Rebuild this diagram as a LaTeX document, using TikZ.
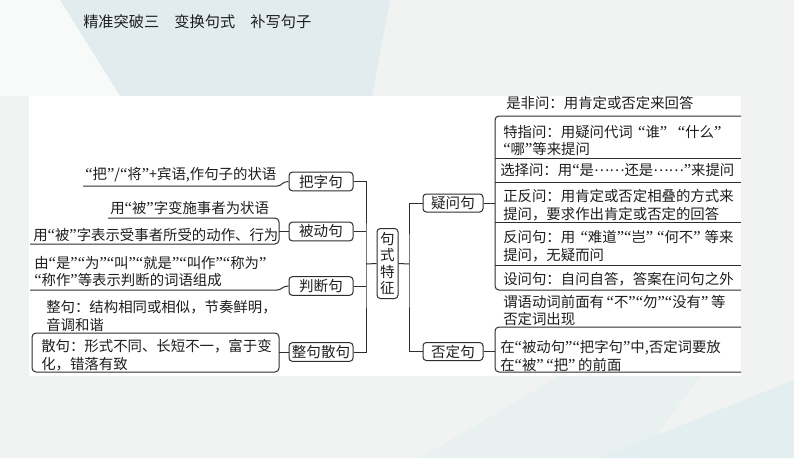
\documentclass[tikz,border=0pt]{standalone}
\usepackage{fontspec}
\setmainfont{Noto Sans CJK SC}
\newfontfamily\qf{Liberation Serif}[Scale=1.15]
\newcommand\q[1]{{\qf “}#1{\qf ”}}
\newcommand\mydots{\raisebox{0.26em}{……}}
\usetikzlibrary{calc}
\definecolor{ln}{HTML}{2E2E2E}
\definecolor{txt}{HTML}{1E1E1E}
\definecolor{bgbase}{HTML}{F1F3F3}
\definecolor{bgblue}{HTML}{DCEAEE}
\definecolor{bgteal}{HTML}{E2EEEF}
\begin{document}
\begin{tikzpicture}[x=0.75pt,y=-0.75pt,
  wire/.style={draw=ln, line width=0.75pt},
  catbox/.style={draw=ln, line width=0.75pt, rounded corners=2.5pt, fill=white,
    minimum width=48pt, minimum height=14pt, inner sep=0pt, text=txt,
    font=\fontsize{10.9}{13}\selectfont},
  leaf/.style={inner sep=0pt, anchor=west, align=left, text=txt,
    font=\fontsize{10.8}{13.1}\selectfont}]
\useasboundingbox (0,0) rectangle (794,458);
% background
\fill[bgbase] (0,0) rectangle (794,458);
\fill[bgblue, opacity=0.7] (60,0) -- (390,0) -- (372,96) -- (120,96) -- cycle;
\fill[white, opacity=0.5] (0,0) -- (60,0) -- (120,96) -- (0,96) -- cycle;
\fill[bgteal] (600,458) -- (794,380) -- (794,458) -- cycle;
\fill[bgteal, opacity=0.6] (420,458) -- (560,376) -- (700,376) -- (640,458) -- cycle;
\fill[white] (29,96) rectangle (741,376);
% title
\node[anchor=west, inner sep=0pt, text=txt, font=\fontsize{11.4}{13}\selectfont] (title) at (83,22) {精准突破三　变换句式　补写句子};

% central node
\node[catbox, minimum width=15.75pt, minimum height=52.5pt, align=center,
  font=\fontsize{10.9}{12.2}\selectfont] (c) at (387.5,263.5) {句\\式\\特\\征};

% left category nodes
\node[catbox] (ba) at (321,181.5) {把字句};
\node[catbox] (bd) at (321,231.5) {被动句};
\node[catbox] (pd) at (321,286) {判断句};
\node[catbox] (zs) at (321,352) {整句散句};

% right category nodes
\node[catbox, minimum width=45pt, minimum height=13.5pt] (yw) at (453,203) {疑问句};
\node[catbox, minimum width=45pt, minimum height=13.5pt] (fd) at (453,351.5) {否定句};

% trunks
\coordinate (LT) at (366,264);
\coordinate (RT) at (409,264);
\draw[wire] (ba.east) -| (LT) |- (zs.east);
\draw[wire] (bd.east) -- (bd.east -| LT);
\draw[wire] (pd.east) -- (pd.east -| LT);
\draw[wire] (LT) -- (c.west);
\draw[wire] (c.east) -- (RT);
\draw[wire] (yw.west) -| (RT) |- (fd.west);

% ---- left leaves ----
\node[leaf] (l1) at (85,175) {\q{把}/\q{将}+宾语,作句子的状语};
\draw[wire] (83,186) -- (277,186) .. controls (282,186) and (282,181.5) .. (ba.west);

\node[leaf] (l2a) at (110,208) {用\q{被}字变施事者为状语};
\node[leaf] (l2b) at (33,235) {用\q{被}字表示受事者所受的动作、行为};
\draw[wire, rounded corners=3pt] (108,218) -- (279,218) -- (279,244) -- (30,244);
\coordinate (bdk) at (279,231.5);
\draw[wire] (bdk) -- (bd.west);

\node[leaf] (l3) at (34,271.5) {由\q{是}\q{为}\q{叫}\q{就是}\q{叫作}\q{称为}\\\q{称作}等表示判断的词语组成};
\draw[wire] (30,290) -- (277,290) .. controls (282,290) and (282,286) .. (pd.west);

\node[leaf] (l4a) at (46,316) {整句：结构相同或相似，节奏鲜明，\\音调和谐};
\node[leaf] (l4b) at (41,355) {散句：形式不同、长短不一，富于变\\化，错落有致};
\draw[wire, rounded corners=3pt] (32,333) rectangle (279,372);
\coordinate (zsk) at (279,352);
\draw[wire] (zsk) -- (zs.west);

% ---- right leaves: 疑问句 ----
\node[leaf] (r1) at (506,103) {是非问：用肯定或否定来回答};
\node[leaf] (r2) at (503,140.5) {特指问：用疑问代词\hspace{4pt}\q{谁}\hspace{8pt}\q{什么}\\\q{哪}等来提问};
\node[leaf] (r3) at (500,170) {选择问：用\q{是\mydots 还是\mydots}来提问};
\node[leaf] (r4) at (503,205) {正反问：用肯定或否定相叠的方式来\\提问，要求作出肯定或否定的回答};
\node[leaf] (r5) at (503,246) {反问句：用\hspace{4pt}\q{难道}\q{岂}\hspace{3pt}\q{何不}\hspace{3pt}等来\\提问，无疑而问};
\node[leaf] (r6) at (503,279) {设问句：自问自答，答案在问句之外};
\draw[wire, rounded corners=3pt] (741,116) -- (495,116) -- (495,290) -- (741,290);
\draw[wire] (495,158) -- (741,158);
\draw[wire] (495,182) -- (741,182);
\draw[wire] (495,222) -- (741,222);
\draw[wire] (495,265) -- (741,265);
\coordinate (ywk) at (495,203);
\draw[wire] (yw.east) -- (ywk);

% ---- right leaves: 否定句 ----
\node[leaf] (r7) at (503,310.5) {谓语动词前面有\hspace{2pt}\q{不}\q{勿}\q{没有}\hspace{2pt}等\\否定词出现};
\node[leaf] (r8) at (500,356) {在\q{被动句}\q{把字句}中,否定词要放\\在\q{被}\hspace{2pt}\q{把}\hspace{2pt}的前面};
\draw[wire, rounded corners=3pt] (741,327) -- (495,327) -- (495,372) -- (741,372);
\coordinate (fdk) at (495,351.5);
\draw[wire] (fd.east) -- (fdk);
\end{tikzpicture}
\end{document}
